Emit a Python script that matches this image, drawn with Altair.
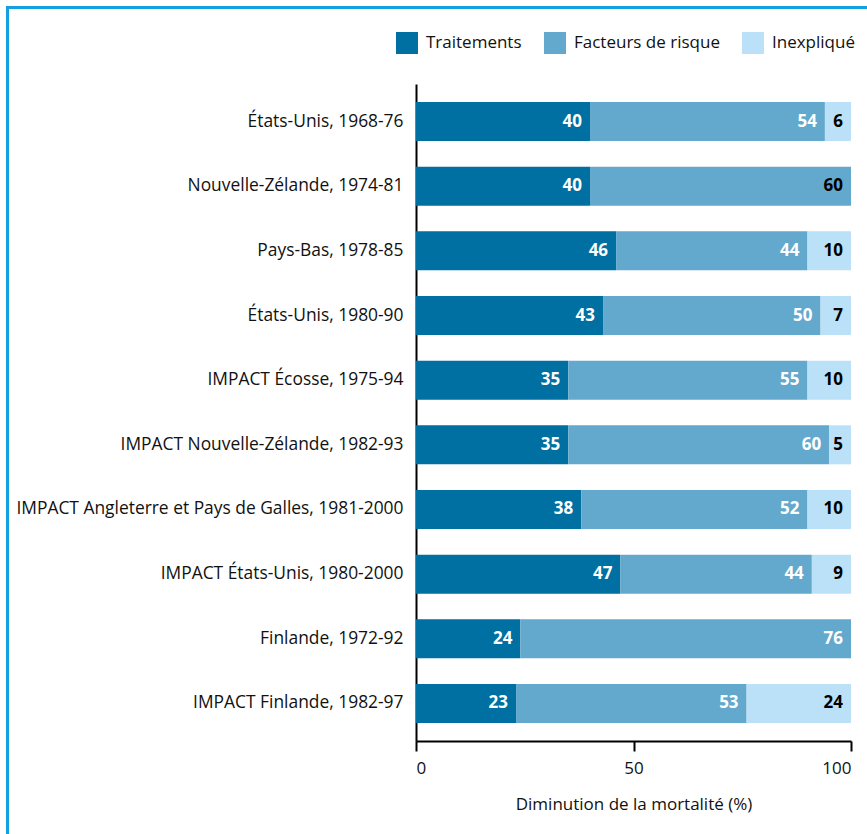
import altair as alt
import pandas as pd

categories = [
    "États-Unis, 1968-76",
    "Nouvelle-Zélande, 1974-81",
    "Pays-Bas, 1978-85",
    "États-Unis, 1980-90",
    "IMPACT Écosse, 1975-94",
    "IMPACT Nouvelle-Zélande, 1982-93",
    "IMPACT Angleterre et Pays de Galles, 1981-2000",
    "IMPACT États-Unis, 1980-2000",
    "Finlande, 1972-92",
    "IMPACT Finlande, 1982-97",
]
series = ["Traitements", "Facteurs de risque", "Inexpliqué"]
traitements = [40, 40, 46, 43, 35, 35, 38, 47, 24, 23]
facteurs = [54, 60, 44, 50, 55, 60, 52, 44, 76, 53]
inexplique = [6, 0, 10, 7, 10, 5, 10, 9, 0, 24]
colors = ["#006fa1", "#63a9cd", "#bae1f8"]
dark_label_rows = ["Nouvelle-Zélande, 1974-81"]

rows = []
for i, cat in enumerate(categories):
    vals = [traitements[i], facteurs[i], inexplique[i]]
    start = 0
    for s, v in zip(series, vals):
        if v > 0:
            black = (s == "Inexpliqué") or (cat in dark_label_rows and s == "Facteurs de risque")
            rows.append({"cat": cat, "serie": s, "value": v, "start": start,
                         "end": start + v, "lab": "black" if black else "white"})
        start += v
df = pd.DataFrame(rows)

FONT = "Open Sans"

base = alt.Chart(df)

bars = base.mark_bar(size=39).encode(
    y=alt.Y("cat:N", sort=categories, title=None,
            scale=alt.Scale(paddingInner=0.4, paddingOuter=0.28),
            axis=alt.Axis(ticks=False, labelPadding=13, labelFontSize=17.4,
                          labelColor="#111111", domainColor="#000000",
                          domainWidth=2, labelLimit=500)),
    x=alt.X("start:Q", title="Diminution de la mortalité (%)",
            scale=alt.Scale(domain=[0, 100], nice=False),
            axis=alt.Axis(values=[0, 50, 100], tickSize=10, tickWidth=2,
                          tickColor="#000000", domainColor="#000000",
                          domainWidth=2, labelFontSize=17, labelColor="#111111",
                          labelPadding=9, titleFontSize=17,
                          titleFontWeight="normal", titleColor="#111111",
                          titlePadding=20, grid=False)),
    x2="end:Q",
    color=alt.Color("serie:N", sort=series,
                    scale=alt.Scale(domain=series, range=colors),
                    legend=alt.Legend(title=None, orient="none", direction="horizontal",
                                      legendX=-20, legendY=-52,
                                      symbolType="square", symbolSize=484,
                                      symbolStrokeWidth=0, labelFontSize=17,
                                      labelColor="#111111", labelOffset=8,
                                      columnPadding=22, padding=0,
                                      labelLimit=300)),
)

labels = base.mark_text(align="right", baseline="middle", dx=-8,
                        fontSize=17, fontWeight="bold", font=FONT).encode(
    y=alt.Y("cat:N", sort=categories),
    x=alt.X("end:Q"),
    text=alt.Text("value:Q"),
    color=alt.Color("lab:N", scale=None),
)

frame_top = alt.Chart(pd.DataFrame({"a": [0]})).mark_rule(
    color="#14a0e0", strokeWidth=3).encode(
    x=alt.value(-409), x2=alt.value(470), y=alt.value(-76.5))
frame_left = alt.Chart(pd.DataFrame({"a": [0]})).mark_rule(
    color="#14a0e0", strokeWidth=3).encode(
    x=alt.value(-408.5), y=alt.value(-78), y2=alt.value(780))

chart = alt.layer(bars, labels, frame_top, frame_left).properties(
    width=435, height=657,
    autosize=alt.AutoSizeParams(type="none"),
    padding={"left": 416, "top": 84, "right": 16, "bottom": 93},
).configure(font=FONT).configure_view(stroke=None)

chart.save("out.html", embed_options={"renderer": "svg", "actions": False})
